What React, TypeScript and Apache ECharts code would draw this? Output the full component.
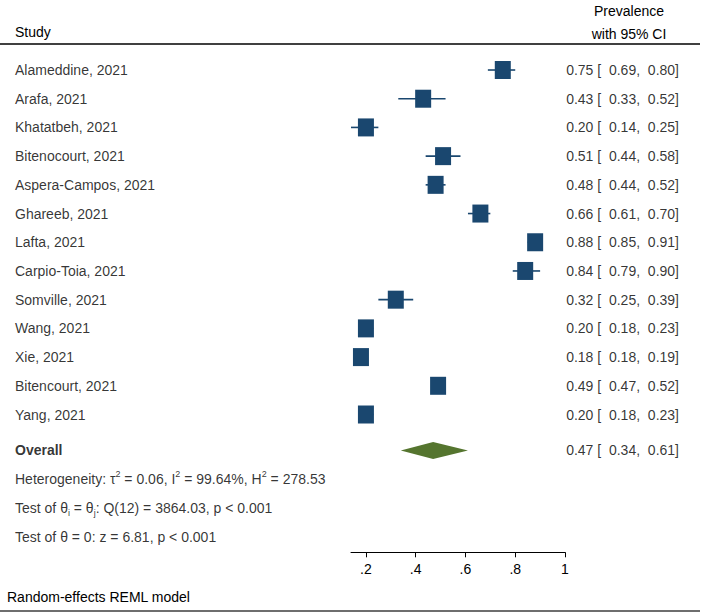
import React, { useEffect, useRef } from 'react';
import * as echarts from 'echarts';

// ---- data ----
const studies = [
  'Alameddine, 2021', 'Arafa, 2021', 'Khatatbeh, 2021', 'Bitenocourt, 2021',
  'Aspera-Campos, 2021', 'Ghareeb, 2021', 'Lafta, 2021', 'Carpio-Toia, 2021',
  'Somville, 2021', 'Wang, 2021', 'Xie, 2021', 'Bitencourt, 2021', 'Yang, 2021',
];
const estimates = [0.75, 0.43, 0.20, 0.51, 0.48, 0.66, 0.88, 0.84, 0.32, 0.20, 0.18, 0.49, 0.20];
const lowerCI = [0.69, 0.33, 0.14, 0.44, 0.44, 0.61, 0.85, 0.79, 0.25, 0.18, 0.18, 0.47, 0.18];
const upperCI = [0.80, 0.52, 0.25, 0.58, 0.52, 0.70, 0.91, 0.90, 0.39, 0.23, 0.19, 0.52, 0.23];
const overallLabel = 'Overall';
const overallValues = [0.47, 0.34, 0.61]; // estimate, lower, upper
const heterogeneity = { tau2: '0.06', i2: '99.64%', h2: '278.53' };
const testQ = { df: 12, q: '3864.03', p: '0.001' };
const testZ = { z: '6.81', p: '0.001' };
const xTickValues = [0.2, 0.4, 0.6, 0.8, 1];
const xTickLabels = ['.2', '.4', '.6', '.8', '1'];

// ---- layout (row positions on the hidden y axis) ----
const studyRows = studies.map((_, i) => i + 1);
const overallRow = 14.25;
const statRows = [15.25, 16.25, 17.25];
const Y_MAX = 17.8;
const GRID_TOP = 41.3;
const GRID_BOTTOM_PX = 552.3;
const FONT = '"Liberation Sans", Arial, Helvetica, sans-serif';
const NAVY = '#1a476f';
const GREEN = '#55752f';

const fmt = (v: number) => v.toFixed(2);
const ciText = (e: number, l: number, u: number) => `${fmt(e)} [  ${fmt(l)},  ${fmt(u)}]`;

export default function App() {
  const ref = useRef<HTMLDivElement>(null);
  useEffect(() => {
    document.body.style.margin = '0';
    if (!ref.current) return;
    const chart = echarts.init(ref.current, undefined, { renderer: 'svg' });
    const gridH = GRID_BOTTOM_PX - GRID_TOP;

    const rich = {
      n: { fontSize: 14, lineHeight: 20, fontFamily: FONT, color: '#000' },
      sup: { fontSize: 9, verticalAlign: 'top', fontFamily: FONT, color: '#000' },
      sub: { fontSize: 9, verticalAlign: 'bottom', fontFamily: FONT, color: '#000' },
    };
    const statLines = [
      `{n|Heterogeneity: τ}{sup|2}{n| = ${heterogeneity.tau2}, I}{sup|2}{n| = ${heterogeneity.i2}, H}{sup|2}{n| = ${heterogeneity.h2}}`,
      `{n|Test of θ}{sub|i}{n| = θ}{sub|j}{n|: Q(${testQ.df}) = ${testQ.q}, p < ${testQ.p}}`,
      `{n|Test of θ = 0: z = ${testZ.z}, p < ${testZ.p}}`,
    ];

    const leftLabels = [
      ...studies.map((s, i) => ({ value: [0, studyRows[i]], text: s, bold: false })),
      { value: [0, overallRow], text: overallLabel, bold: true },
    ];
    const rightLabels = [
      ...studies.map((_, i) => ({ value: [1, studyRows[i]], text: ciText(estimates[i], lowerCI[i], upperCI[i]) })),
      { value: [1, overallRow], text: ciText(overallValues[0], overallValues[1], overallValues[2]) },
    ];

    chart.setOption({
      animation: false,
      textStyle: { fontFamily: FONT, color: '#000' },
      grid: [
        { left: 351, width: 214, top: GRID_TOP, height: gridH },
        { left: 15, right: 29, top: GRID_TOP, height: gridH },
      ],
      xAxis: [
        {
          type: 'value', gridIndex: 0, min: 0.14, max: 1, position: 'bottom',
          axisLine: { show: true, onZero: false, lineStyle: { color: '#000', width: 1 } },
          axisTick: { show: true, inside: false, length: 5, customValues: xTickValues, lineStyle: { color: '#000', width: 1 } },
          axisLabel: {
            show: true, customValues: xTickValues, margin: 10, fontSize: 14, color: '#000', fontFamily: FONT,
            formatter: (v: number) => {
              const k = xTickValues.findIndex((t) => Math.abs(t - v) < 1e-6);
              return k >= 0 ? xTickLabels[k] : '';
            },
          },
          splitLine: { show: false },
        },
        { type: 'value', gridIndex: 1, min: 0, max: 1, show: false },
      ],
      yAxis: [
        { type: 'value', gridIndex: 0, min: 0, max: Y_MAX, inverse: true, show: false },
        { type: 'value', gridIndex: 1, min: 0, max: Y_MAX, inverse: true, show: false },
      ],
      series: [
        {
          type: 'custom', xAxisIndex: 0, yAxisIndex: 0, silent: true,
          data: studies.map((_, i) => [estimates[i], lowerCI[i], upperCI[i], studyRows[i]]),
          encode: { x: [0, 1, 2], y: 3 },
          renderItem: (params: any, api: any) => {
            const pe = api.coord([api.value(0), api.value(3)]);
            const pl = api.coord([api.value(1), api.value(3)]);
            const ph = api.coord([api.value(2), api.value(3)]);
            return {
              type: 'group',
              children: [
                { type: 'line', shape: { x1: pl[0], y1: pe[1], x2: ph[0], y2: pe[1] }, style: { stroke: NAVY, lineWidth: 1.6 } },
                { type: 'rect', shape: { x: pe[0] - 8, y: pe[1] - 9, width: 16, height: 18 }, style: { fill: NAVY } },
              ],
            };
          },
        },
        {
          type: 'custom', xAxisIndex: 0, yAxisIndex: 0, silent: true,
          data: [[overallValues[0], overallValues[1], overallValues[2], overallRow]],
          encode: { x: [0, 1, 2], y: 3 },
          renderItem: (params: any, api: any) => {
            const pe = api.coord([api.value(0), api.value(3)]);
            const pl = api.coord([api.value(1), api.value(3)]);
            const ph = api.coord([api.value(2), api.value(3)]);
            return {
              type: 'polygon',
              shape: { points: [[pl[0], pe[1]], [pe[0], pe[1] - 8.5], [ph[0], pe[1]], [pe[0], pe[1] + 8.5]] },
              style: { fill: GREEN },
            };
          },
        },
        {
          type: 'scatter', xAxisIndex: 1, yAxisIndex: 1, symbolSize: 0, silent: true, clip: false,
          data: leftLabels.map((d) => ({
            value: d.value,
            label: {
              show: true, position: 'right', distance: 0, formatter: d.text,
              fontSize: 14, color: '#000', fontFamily: FONT, fontWeight: d.bold ? 'bold' : 'normal',
            },
          })),
        },
        {
          type: 'scatter', xAxisIndex: 1, yAxisIndex: 1, symbolSize: 0, silent: true, clip: false,
          data: rightLabels.map((d) => ({
            value: d.value,
            label: { show: true, position: 'left', distance: 0, formatter: d.text, fontSize: 14, color: '#000', fontFamily: FONT },
          })),
        },
        {
          type: 'scatter', xAxisIndex: 1, yAxisIndex: 1, symbolSize: 0, silent: true, clip: false,
          data: statLines.map((t, i) => ({
            value: [0, statRows[i]],
            label: { show: true, position: 'right', distance: 0, formatter: t, rich },
          })),
        },
      ],
      graphic: [
        { type: 'text', left: 15, top: 25, style: { text: 'Study', font: `14px ${FONT}`, fill: '#000' } },
        { type: 'text', x: 629, y: 11, style: { text: 'Prevalence', font: `14px ${FONT}`, fill: '#000', align: 'center', verticalAlign: 'middle' } },
        { type: 'text', x: 629, y: 34, style: { text: 'with 95% CI', font: `14px ${FONT}`, fill: '#000', align: 'center', verticalAlign: 'middle' } },
        { type: 'line', shape: { x1: 0, y1: 44, x2: 700, y2: 44 }, style: { stroke: '#000', lineWidth: 1.5 } },
        { type: 'text', x: 7, y: 597, style: { text: 'Random-effects REML model', font: `14px ${FONT}`, fill: '#000', verticalAlign: 'middle' } },
        { type: 'line', shape: { x1: 0, y1: 611, x2: 700, y2: 611 }, style: { stroke: '#6e6e6e', lineWidth: 2 } },
      ],
    });
    return () => chart.dispose();
  }, []);
  return <div ref={ref} style={{ width: 708, height: 615 }} />;
}
